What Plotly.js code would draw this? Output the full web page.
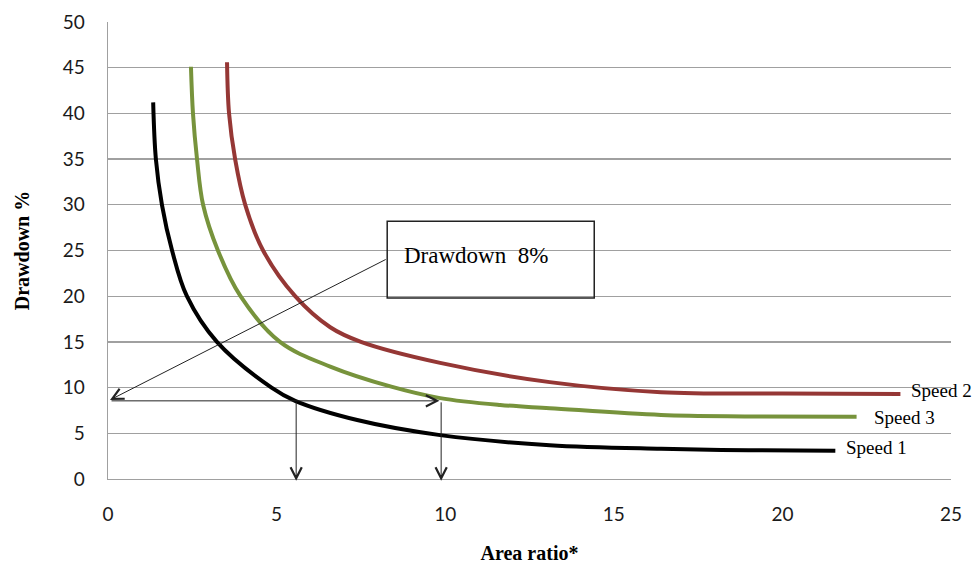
<!DOCTYPE html>
<html>
<head>
<meta charset="utf-8">
<script src="https://cdn.plot.ly/plotly-3.0.1.min.js"></script>
<style>html,body{margin:0;padding:0;background:#fff;}#chart{width:975px;height:565px;}</style>
</head>
<body>
<div id="chart"></div>
<script>
// Speed 1 (black)
const speed1X = [1.34, 1.42, 1.6, 1.9, 2.34, 3.23, 4.85, 5.55, 7.39, 9.85, 13.1, 16.4, 19.0, 21.57];
const speed1Y = [41.2, 35, 30, 25, 20, 15, 10, 8.55, 6.45, 4.8, 3.7, 3.3, 3.15, 3.1];
// Speed 3 (green)
const speed3X = [2.46, 2.52, 2.64, 2.82, 3.26, 3.93, 5.1, 6.59, 8.4, 9.85, 11.63, 13.1, 16.4, 19.0, 22.2];
const speed3Y = [45.1, 40, 35, 30, 25, 20, 15, 12.3, 10.1, 8.85, 8.1, 7.75, 7.0, 6.85, 6.8];
// Speed 2 (red)
const speed2X = [3.53, 3.59, 3.77, 4.07, 4.6, 5.55, 6.59, 7.5, 9.85, 13.1, 16.4, 20.0, 23.5];
const speed2Y = [45.6, 40, 35, 30, 25, 20, 16.6, 15, 12.7, 10.6, 9.5, 9.35, 9.3];

const seriesNames = ['Speed 1', 'Speed 3', 'Speed 2'];
const xTicks = [0, 5, 10, 15, 20, 25];
const yTicks = [0, 5, 10, 15, 20, 25, 30, 35, 40, 45, 50];

// Reading of the chart: drawdown 8% target line and resulting area ratios
const targetDrawdown = 8.55;
const readAreaRatios = [5.58, 9.88];
const noteText = 'Drawdown  8%';

const colors = ['#000000', '#77933c', '#953735'];
const serif = 'Liberation Serif, Times New Roman, serif';

const traces = [
  {x: speed1X, y: speed1Y, name: seriesNames[0], line: {color: colors[0], width: 4, shape: 'spline', smoothing: 1}},
  {x: speed3X, y: speed3Y, name: seriesNames[1], line: {color: colors[1], width: 4, shape: 'spline', smoothing: 1}},
  {x: speed2X, y: speed2Y, name: seriesNames[2], line: {color: colors[2], width: 4, shape: 'spline', smoothing: 1}}
].map(t => Object.assign({type: 'scatter', mode: 'lines', cliponaxis: false, hoverinfo: 'skip'}, t));

const ends = [
  [speed1X, speed1Y, 0.25, 0.3],
  [speed3X, speed3Y, 0.45, -0.1],
  [speed2X, speed2Y, 0.25, 0.4]
];
const annotations = ends.map((e, i) => ({
  x: e[0][e[0].length - 1] + e[2], y: e[1][e[1].length - 1] + e[3],
  xref: 'x', yref: 'y', text: seriesNames[i], showarrow: false,
  xanchor: 'left', yanchor: 'middle', font: {family: serif, size: 19, color: '#000'}
}));

const arrowCommon = {xref: 'x', yref: 'y', axref: 'x', ayref: 'y', text: '', showarrow: true,
  arrowhead: 5, arrowsize: 2.2, arrowwidth: 1, arrowcolor: '#222'};

// diagonal pointer from the note box to the y axis
annotations.push(Object.assign({}, arrowCommon, {x: 0.06, y: targetDrawdown + 0.1, ax: 8.28, ay: 24.1}));
// horizontal arrow to green curve
annotations.push(Object.assign({}, arrowCommon, {x: readAreaRatios[1] - 0.05, y: targetDrawdown, ax: 0.06, ay: targetDrawdown}));
// vertical arrows down to x axis
readAreaRatios.forEach(r => {
  annotations.push(Object.assign({}, arrowCommon, {x: r, y: -0.2, ax: r, ay: targetDrawdown}));
});
// note text
annotations.push({x: 8.72, y: 24.5, xref: 'x', yref: 'y', text: noteText, showarrow: false,
  xanchor: 'left', yanchor: 'middle', font: {family: serif, size: 23, color: '#000'}});

const layout = {
  width: 975, height: 565,
  margin: {l: 108, r: 24, t: 22, b: 86},
  paper_bgcolor: '#fff', plot_bgcolor: '#fff',
  showlegend: false,
  xaxis: {
    range: [0, 25], tickvals: xTicks, ticktext: xTicks.map(String),
    showgrid: false, zeroline: false, showline: true, linecolor: '#a0a0a0', linewidth: 1.3,
    ticks: '', ticklabelstandoff: 18,
    tickfont: {family: 'Lato, Carlito, sans-serif', size: 19, color: '#1a1a1a'},
    title: {text: '<b>Area ratio*</b>', font: {family: serif, size: 20, color: '#000'}, standoff: 22},
    fixedrange: true
  },
  yaxis: {
    range: [0, 50], tickvals: yTicks, ticktext: yTicks.map(String),
    showgrid: true, gridcolor: '#a0a0a0', gridwidth: 1.3,
    zeroline: false, showline: true, linecolor: '#a0a0a0', linewidth: 1.3,
    ticks: '', ticklabelstandoff: 18,
    tickfont: {family: 'Lato, Carlito, sans-serif', size: 19, color: '#1a1a1a'},
    title: {text: '<b>Drawdown %</b>', font: {family: serif, size: 20, color: '#000'}, standoff: 28},
    fixedrange: true
  },
  shapes: [
    {type: 'rect', xref: 'x', yref: 'y', x0: 8.28, x1: 14.42, y0: 19.8, y1: 28.2,
     line: {color: '#222', width: 1.5}, fillcolor: 'rgba(0,0,0,0)'}
  ],
  annotations: annotations
};

Plotly.newPlot('chart', traces, layout, {staticPlot: true, displayModeBar: false});
</script>
</body>
</html>
